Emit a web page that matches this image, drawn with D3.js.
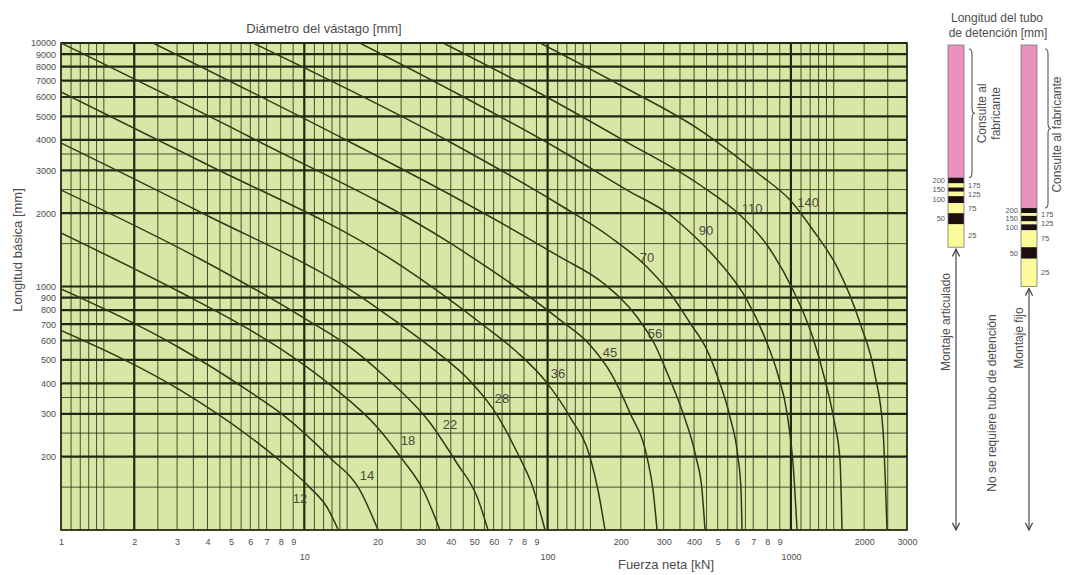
<!DOCTYPE html>
<html>
<head>
<meta charset="utf-8">
<script src="https://cdn.jsdelivr.net/npm/d3@7"></script>
<style>
  body { margin: 0; background: #fff; }
  svg { font-family: "Liberation Sans", Arial, sans-serif; }
</style>
</head>
<body>
<div id="chart"></div>
<script>
var diameters = [12, 14, 18, 22, 28, 36, 45, 56, 70, 90, 110, 140];

var curve12 = [[1,660],[3.08,376],[5.98,241],[8.17,188],[10.5,150],[12.4,124],[13.8,100]];
var curve14 = [[1,977],[3.08,559],[5.98,369],[8.17,297],[12.75,198],[16.9,146],[20.1,100]];
var curve18 = [[1,1659],[3.08,949],[5.98,663],[8.73,523],[13.1,387],[19.9,265],[25.4,194],[30.8,146],[36.1,100]];
var curve22 = [[1,2490],[3.73,1297],[10.26,729],[15.4,564],[21.1,433],[32.9,275],[42.4,188],[51.3,137],[56.9,100]];
var curve28 = [[1,3885],[3.73,2023],[16.9,914],[24,715],[35.1,538],[48,409],[61.9,297],[74.8,209],[87.1,149],[97.6,100]];
var curve36 = [[1,6292],[3.73,3277],[24.7,1226],[54.3,695],[74.8,538],[99.4,402],[123.6,291],[149.4,199],[161.1,146],[172.2,100]];
var curve45 = [[1,10000],[5.98,4111],[39.7,1509],[112.4,729],[149.4,575],[183.9,433],[218.2,302],[256.2,199],[271.2,146],[281.7,100]];
var curve56 = [[2.39,10000],[15.4,3922],[43.6,2266],[112.4,1322],[168.9,1034],[233.1,749],[276.4,575],[312.6,433],[360.2,302],[407.4,199],[431.1,146],[443.6,100]];
var curve70 = [[6.15,10000],[39.7,3922],[112.4,2161],[180.5,1597],[256.2,1203],[318.5,940],[384.9,708],[452.1,548],[501.7,421],[561.9,291],[606,199],[623.5,146],[629.5,100]];
var curve90 = [[16.9,10000],[43.6,6114],[112.4,3636],[212,2490],[318.5,1966],[396,1627],[511.1,1249],[660.1,880],[782.7,614],[885.1,433],[963.9,302],[1020,188],[1060,100]];
var curve110 = [[37.2,10000],[84.7,6535],[204.2,3995],[423.1,2611],[617.7,1966],[797.6,1481],[1020,967],[1221,632],[1381,413],[1503,283],[1591,194],[1622,100]];
var curve140 = [[93.1,10000],[198.4,6722],[423.1,4392],[746.5,2870],[991.5,2266],[1232,1706],[1547,1203],[1923,708],[2216,433],[2391,257],[2483,100]];

var curves = [curve12, curve14, curve18, curve22, curve28, curve36,
              curve45, curve56, curve70, curve90, curve110, curve140];

// where the diameter numbers sit
var labelAt = [[9.6,135],[18.1,167],[26.7,234],[39.7,272],[64.9,348],[110.3,441],
               [180.5,538],[276.4,644],[256.2,1322],[447.7,1706],[692,2101],[1176,2223]];

// axis ticks
var lengthTicks = [200,300,400,500,600,700,800,900,1000,2000,3000,4000,5000,6000,7000,8000,9000,10000];
var forceTicks = [1,2,3,4,5,6,7,8,9,20,30,40,50,60,70,80,90,200,300,400,500,600,700,800,900,2000,3000];
var forceTickText = ["1","2","3","4","5","6","7","8","9","20","30","40","50","60","7","8","9",
                     "200","300","400","5","6","7","8","9","2000","3000"];
var decadeTicks = [10, 100, 1000];
var forceGridSteps = [1,1.1,1.2,1.3,1.4,1.5,2,2.5,3,3.5,4,4.5,5,5.5,6,6.5,7,8,9];
var lengthGridSteps = [1,1.5,2,2.5,3,3.5,4,5,6,7,8,9];

// stop tube bars (length limits in mm, top to bottom)
var stopTube = [200, 175, 150, 125, 100, 75, 50, 25];
var pivotLimits = [2800, 2650, 2550, 2450, 2350, 2200, 2000, 1800, 1450];
var fixedLimits = [2100, 2000, 1950, 1850, 1800, 1700, 1450, 1300, 1000];

var width = 1070, height = 575,
    plot = {left: 61, right: 907, top: 43, bottom: 530};

var svg = d3.select("#chart").append("svg")
  .attr("width", width)
  .attr("height", height);

var x = d3.scaleLog().domain([1, 3000]).range([plot.left, plot.right]);
var y = d3.scaleLog().domain([100, 10000]).range([plot.bottom, plot.top]);

var gridColor = "#1f2a10",
    textColor = "#4d4d4d";

svg.append("rect")
  .attr("x", plot.left).attr("y", plot.top)
  .attr("width", plot.right - plot.left)
  .attr("height", plot.bottom - plot.top)
  .attr("fill", "#d9e7a6");

// grid values
var forceGrid = [];
[1, 10, 100, 1000].forEach(function(dec) {
  forceGridSteps.forEach(function(s) {
    var v = dec * s;
    if (v <= 3000) forceGrid.push(v);
  });
});
var lengthGrid = [];
[100, 1000].forEach(function(dec) {
  lengthGridSteps.forEach(function(s) { lengthGrid.push(dec * s); });
});
lengthGrid.push(10000);

function isThickForce(v) { return v === 2 || v === 10 || v === 100 || v === 1000; }
function isThickLength(v) { return lengthTicks.indexOf(v) >= 0; }

var grid = svg.append("g");
grid.selectAll("line.v").data(forceGrid).enter().append("line")
  .attr("x1", function(d) { return x(d); })
  .attr("x2", function(d) { return x(d); })
  .attr("y1", plot.top).attr("y2", plot.bottom)
  .attr("stroke", gridColor)
  .attr("stroke-opacity", function(d) { return isThickForce(d) ? 1 : 0.8; })
  .attr("stroke-width", function(d) { return isThickForce(d) ? 2.2 : 1; });

grid.selectAll("line.h").data(lengthGrid).enter().append("line")
  .attr("y1", function(d) { return y(d); })
  .attr("y2", function(d) { return y(d); })
  .attr("x1", plot.left).attr("x2", plot.right)
  .attr("stroke", gridColor)
  .attr("stroke-opacity", function(d) { return isThickLength(d) ? 1 : 0.8; })
  .attr("stroke-width", function(d) { return isThickLength(d) ? 2.2 : 1; });

svg.append("rect")
  .attr("x", plot.left).attr("y", plot.top)
  .attr("width", plot.right - plot.left)
  .attr("height", plot.bottom - plot.top)
  .attr("fill", "none")
  .attr("stroke", gridColor)
  .attr("stroke-width", 1.6);

// curves
svg.append("clipPath").attr("id", "clip")
  .append("rect")
  .attr("x", plot.left).attr("y", plot.top)
  .attr("width", plot.right - plot.left)
  .attr("height", plot.bottom - plot.top);

var line = d3.line()
  .x(function(d) { return x(d[0]); })
  .y(function(d) { return y(d[1]); })
  .curve(d3.curveMonotoneX);

svg.append("g").attr("clip-path", "url(#clip)")
  .selectAll("path").data(curves).enter().append("path")
  .attr("d", line)
  .attr("fill", "none")
  .attr("stroke", "#2e3a16")
  .attr("stroke-width", 1.5);

svg.append("g").selectAll("text").data(labelAt).enter().append("text")
  .attr("x", function(d) { return x(d[0]); })
  .attr("y", function(d) { return y(d[1]); })
  .attr("dy", "0.35em")
  .attr("text-anchor", "middle")
  .attr("font-size", 13)
  .attr("fill", "#4a4a40")
  .text(function(d, i) { return diameters[i]; });

// axes
function styleAxis(g, size) {
  g.select(".domain").remove();
  g.selectAll("text").attr("fill", textColor).attr("font-size", size)
    .attr("font-family", "'Liberation Sans', Arial, sans-serif");
}

svg.append("g")
  .attr("transform", "translate(0," + plot.bottom + ")")
  .call(d3.axisBottom(x).tickValues(forceTicks)
    .tickFormat(function(d, i) { return forceTickText[i]; })
    .tickSize(0).tickPadding(9))
  .call(styleAxis, 9);

svg.append("g")
  .attr("transform", "translate(0," + plot.bottom + ")")
  .call(d3.axisBottom(x).tickValues(decadeTicks)
    .tickFormat(d3.format("d"))
    .tickSize(0).tickPadding(24))
  .call(styleAxis, 9);

svg.append("g")
  .attr("transform", "translate(" + plot.left + ",0)")
  .call(d3.axisLeft(y).tickValues(lengthTicks)
    .tickFormat(d3.format("d"))
    .tickSize(0).tickPadding(5))
  .call(styleAxis, 9);

svg.append("text")
  .attr("x", 324).attr("y", 33)
  .attr("text-anchor", "middle")
  .attr("font-size", 13).attr("fill", textColor)
  .text("Diámetro del vástago [mm]");

svg.append("text")
  .attr("x", 666).attr("y", 569)
  .attr("text-anchor", "middle")
  .attr("font-size", 13).attr("fill", textColor)
  .text("Fuerza neta [kN]");

svg.append("text")
  .attr("transform", "translate(22,250) rotate(-90)")
  .attr("text-anchor", "middle")
  .attr("font-size", 13).attr("fill", textColor)
  .text("Longitud básica [mm]");

// stop tube panel
var panel = svg.append("g");

panel.append("text")
  .attr("x", 997).attr("y", 22)
  .attr("text-anchor", "middle")
  .attr("font-size", 12).attr("fill", textColor)
  .text("Longitud del tubo");
panel.append("text")
  .attr("x", 998).attr("y", 37)
  .attr("text-anchor", "middle")
  .attr("font-size", 12).attr("fill", textColor)
  .text("de detención [mm]");

var defs = svg.append("defs");
defs.append("marker")
  .attr("id", "arrow")
  .attr("viewBox", "0 0 10 10")
  .attr("refX", 9).attr("refY", 5)
  .attr("markerWidth", 9).attr("markerHeight", 9)
  .attr("markerUnits", "userSpaceOnUse")
  .attr("orient", "auto-start-reverse")
  .append("path")
  .attr("d", "M1,1 L9,5 L1,9")
  .attr("fill", "none")
  .attr("stroke", "#444")
  .attr("stroke-width", 1.4);

function stopBar(limits, x0, barW, opts) {
  var g = panel.append("g");
  var bounds = [10000].concat(limits);
  var segs = d3.range(bounds.length - 1).map(function(i) {
    return {top: bounds[i], bottom: bounds[i + 1], i: i};
  });

  g.selectAll("rect").data(segs).enter().append("rect")
    .attr("x", x0)
    .attr("y", function(d) { return y(d.top) + (d.i === 0 ? 2 : 0); })
    .attr("width", barW)
    .attr("height", function(d) { return y(d.bottom) - y(d.top) - (d.i === 0 ? 2 : 0); })
    .attr("fill", function(d) {
      if (d.i === 0) return "#eb8fbd";
      return d.i % 2 === 1 ? "#1d0d0d" : "#fbfb9a";
    });

  g.append("rect")
    .attr("x", x0).attr("y", y(10000) + 2)
    .attr("width", barW)
    .attr("height", y(limits[limits.length - 1]) - y(10000) - 2)
    .attr("fill", "none")
    .attr("stroke", "#777")
    .attr("stroke-width", 0.8);

  // mm labels: black segments left, yellow right
  g.selectAll("text.mm").data(segs.slice(1)).enter().append("text")
    .attr("x", function(d) { return d.i % 2 === 1 ? x0 - 3 : x0 + barW + 4; })
    .attr("y", function(d) { return (y(d.top) + y(d.bottom)) / 2; })
    .attr("dy", "0.35em")
    .attr("text-anchor", function(d) { return d.i % 2 === 1 ? "end" : "start"; })
    .attr("font-size", 7.5)
    .attr("fill", "#555")
    .text(function(d) { return stopTube[d.i - 1]; });

  // brace over the pink part
  var bx = x0 + barW + opts.braceGap, y0 = y(10000) + 6, y1 = y(limits[0]),
      ym = (y0 + y1) / 2, r = 5, w = 3;
  g.append("path")
    .attr("d", "M" + bx + "," + y0 +
      " Q" + (bx + w) + "," + y0 + " " + (bx + w) + "," + (y0 + r) +
      " L" + (bx + w) + "," + (ym - r) +
      " Q" + (bx + w) + "," + ym + " " + (bx + 2 * w) + "," + ym +
      " Q" + (bx + w) + "," + ym + " " + (bx + w) + "," + (ym + r) +
      " L" + (bx + w) + "," + (y1 - r) +
      " Q" + (bx + w) + "," + y1 + " " + bx + "," + y1)
    .attr("fill", "none")
    .attr("stroke", "#555")
    .attr("stroke-width", 1.1);

  opts.consult.forEach(function(t, k) {
    g.append("text")
      .attr("transform", "translate(" + (bx + opts.textOffset + k * 14) + "," + (ym + opts.textShift) + ") rotate(-90)")
      .attr("text-anchor", "middle")
      .attr("dy", "0.35em")
      .attr("font-size", 12)
      .attr("fill", textColor)
      .text(t);
  });

  // arrow down to the bottom of the chart
  var ax = x0 + barW / 2;
  g.append("line")
    .attr("x1", ax).attr("x2", ax)
    .attr("y1", y(limits[limits.length - 1]) + 2)
    .attr("y2", y(100))
    .attr("stroke", "#555")
    .attr("stroke-width", 1.3)
    .attr("marker-start", "url(#arrow)")
    .attr("marker-end", "url(#arrow)");

  g.append("text")
    .attr("transform", "translate(" + (ax - 10) + "," + opts.mountY + ") rotate(-90)")
    .attr("text-anchor", "middle")
    .attr("dy", "0.35em")
    .attr("font-size", 12)
    .attr("fill", textColor)
    .text(opts.mount);
}

stopBar(pivotLimits, 948, 16, {
  braceGap: 5, consult: ["Consulte al", "fabricante"], textOffset: 13, textShift: 0,
  mount: "Montaje articulado", mountY: 322
});
stopBar(fixedLimits, 1021, 16, {
  braceGap: 8, consult: ["Consulte al fabricante"], textOffset: 12, textShift: 6,
  mount: "Montaje fijo", mountY: 338
});

panel.append("text")
  .attr("transform", "translate(992,403) rotate(-90)")
  .attr("text-anchor", "middle")
  .attr("dy", "0.35em")
  .attr("font-size", 12)
  .attr("fill", textColor)
  .text("No se requiere tubo de detención");
</script>
</body>
</html>
